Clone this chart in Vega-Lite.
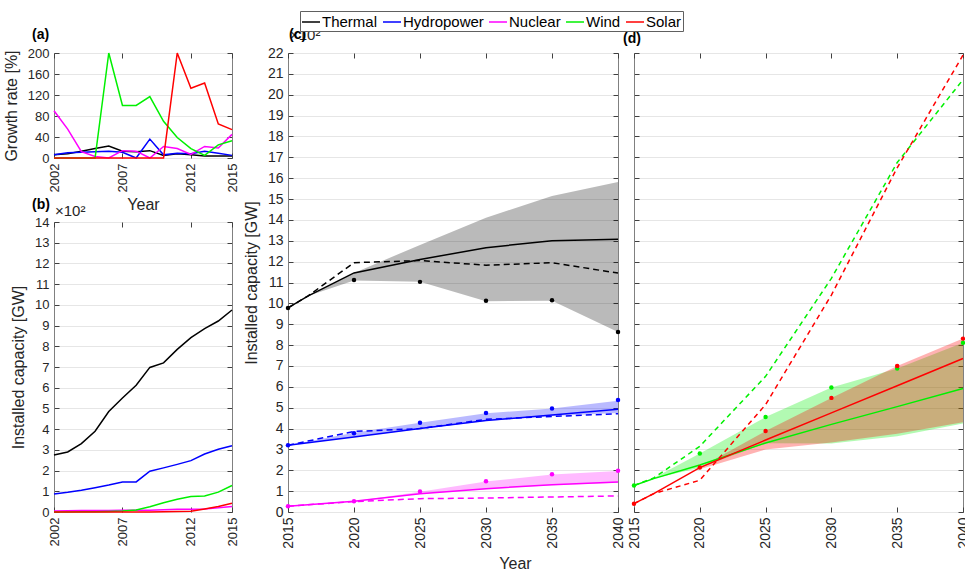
{
  "$schema": "https://vega.github.io/schema/vega-lite/v6.json",
  "padding": {"left": 2, "top": 10, "right": 0, "bottom": 0},
  "background": "white",
  "config": {
    "font": "Liberation Sans",
    "view": {"stroke": "#808080", "strokeWidth": 1},
    "axis": {"domain": false, "ticks": true, "tickSize": -5, "tickColor": "#404040", "tickWidth": 1, "labelPadding": 10, "labelColor": "#262626", "labelFontSize": 14, "titleColor": "#262626", "titleFontSize": 16, "titleFontWeight": "normal", "gridColor": "#e6e6e6", "gridWidth": 1, "labelFlush": false, "labelOverlap": false, "titlePadding": 8},
    "title": {"fontSize": 14, "fontWeight": "bold", "color": "#000000", "anchor": "start", "frame": "group", "baseline": "alphabetic", "offset": 13},
    "line": {"strokeWidth": 1.5}
  },
  "datasets": {
    "hist": [
      {"year":2002,"source":"Thermal","growth":6,"capacity":275},
      {"year":2003,"source":"Thermal","growth":8,"capacity":290},
      {"year":2004,"source":"Thermal","growth":13,"capacity":330},
      {"year":2005,"source":"Thermal","growth":18,"capacity":390},
      {"year":2006,"source":"Thermal","growth":23,"capacity":485},
      {"year":2007,"source":"Thermal","growth":13,"capacity":550},
      {"year":2008,"source":"Thermal","growth":12,"capacity":612},
      {"year":2009,"source":"Thermal","growth":14,"capacity":698},
      {"year":2010,"source":"Thermal","growth":5,"capacity":720},
      {"year":2011,"source":"Thermal","growth":8,"capacity":785},
      {"year":2012,"source":"Thermal","growth":6,"capacity":842},
      {"year":2013,"source":"Thermal","growth":4,"capacity":885},
      {"year":2014,"source":"Thermal","growth":4,"capacity":922},
      {"year":2015,"source":"Thermal","growth":4,"capacity":975},
      {"year":2002,"source":"Hydropower","growth":6,"capacity":87},
      {"year":2003,"source":"Hydropower","growth":10,"capacity":95},
      {"year":2004,"source":"Hydropower","growth":11,"capacity":105},
      {"year":2005,"source":"Hydropower","growth":12,"capacity":117},
      {"year":2006,"source":"Hydropower","growth":13,"capacity":130},
      {"year":2007,"source":"Hydropower","growth":11,"capacity":145},
      {"year":2008,"source":"Hydropower","growth":0,"capacity":145},
      {"year":2009,"source":"Hydropower","growth":36,"capacity":197},
      {"year":2010,"source":"Hydropower","growth":6,"capacity":213},
      {"year":2011,"source":"Hydropower","growth":9,"capacity":230},
      {"year":2012,"source":"Hydropower","growth":8,"capacity":248},
      {"year":2013,"source":"Hydropower","growth":13,"capacity":280},
      {"year":2014,"source":"Hydropower","growth":9,"capacity":303},
      {"year":2015,"source":"Hydropower","growth":5,"capacity":320},
      {"year":2002,"source":"Nuclear","growth":90,"capacity":4.5},
      {"year":2003,"source":"Nuclear","growth":55,"capacity":6},
      {"year":2004,"source":"Nuclear","growth":12,"capacity":7},
      {"year":2005,"source":"Nuclear","growth":3,"capacity":7},
      {"year":2006,"source":"Nuclear","growth":0,"capacity":7},
      {"year":2007,"source":"Nuclear","growth":14,"capacity":8},
      {"year":2008,"source":"Nuclear","growth":13,"capacity":9},
      {"year":2009,"source":"Nuclear","growth":0,"capacity":9},
      {"year":2010,"source":"Nuclear","growth":22,"capacity":11},
      {"year":2011,"source":"Nuclear","growth":18,"capacity":13},
      {"year":2012,"source":"Nuclear","growth":7,"capacity":13},
      {"year":2013,"source":"Nuclear","growth":22,"capacity":15},
      {"year":2014,"source":"Nuclear","growth":19,"capacity":20},
      {"year":2015,"source":"Nuclear","growth":45,"capacity":27},
      {"year":2002,"source":"Wind","growth":0,"capacity":0.4},
      {"year":2003,"source":"Wind","growth":0,"capacity":0.5},
      {"year":2004,"source":"Wind","growth":0,"capacity":0.8},
      {"year":2005,"source":"Wind","growth":0,"capacity":1.1},
      {"year":2006,"source":"Wind","growth":200,"capacity":2.5},
      {"year":2007,"source":"Wind","growth":100,"capacity":5},
      {"year":2008,"source":"Wind","growth":100,"capacity":10},
      {"year":2009,"source":"Wind","growth":117,"capacity":25},
      {"year":2010,"source":"Wind","growth":70,"capacity":45},
      {"year":2011,"source":"Wind","growth":39,"capacity":62},
      {"year":2012,"source":"Wind","growth":18,"capacity":75},
      {"year":2013,"source":"Wind","growth":5,"capacity":77},
      {"year":2014,"source":"Wind","growth":25,"capacity":96},
      {"year":2015,"source":"Wind","growth":33,"capacity":128},
      {"year":2002,"source":"Solar","growth":0,"capacity":0.05},
      {"year":2003,"source":"Solar","growth":0,"capacity":0.05},
      {"year":2004,"source":"Solar","growth":0,"capacity":0.1},
      {"year":2005,"source":"Solar","growth":0,"capacity":0.1},
      {"year":2006,"source":"Solar","growth":0,"capacity":0.1},
      {"year":2007,"source":"Solar","growth":0,"capacity":0.1},
      {"year":2008,"source":"Solar","growth":0,"capacity":0.2},
      {"year":2009,"source":"Solar","growth":0,"capacity":0.3},
      {"year":2010,"source":"Solar","growth":0,"capacity":0.8},
      {"year":2011,"source":"Solar","growth":200,"capacity":2.5},
      {"year":2012,"source":"Solar","growth":133,"capacity":4},
      {"year":2013,"source":"Solar","growth":143,"capacity":15},
      {"year":2014,"source":"Solar","growth":65,"capacity":27},
      {"year":2015,"source":"Solar","growth":54,"capacity":42}
    ],
    "proj": [
      {"year":2015,"source":"Thermal","scenario":"A","value":978},
      {"year":2016.5,"source":"Thermal","scenario":"A","value":1035},
      {"year":2020,"source":"Thermal","scenario":"A","value":1146},
      {"year":2025,"source":"Thermal","scenario":"A","value":1210},
      {"year":2030,"source":"Thermal","scenario":"A","value":1267},
      {"year":2035,"source":"Thermal","scenario":"A","value":1300},
      {"year":2040,"source":"Thermal","scenario":"A","value":1307},
      {"year":2015,"source":"Thermal","scenario":"B","value":978},
      {"year":2016.5,"source":"Thermal","scenario":"B","value":1035},
      {"year":2020,"source":"Thermal","scenario":"B","value":1195},
      {"year":2025,"source":"Thermal","scenario":"B","value":1205},
      {"year":2030,"source":"Thermal","scenario":"B","value":1183},
      {"year":2035,"source":"Thermal","scenario":"B","value":1195},
      {"year":2040,"source":"Thermal","scenario":"B","value":1145},
      {"year":2015,"source":"Hydropower","scenario":"A","value":320},
      {"year":2020,"source":"Hydropower","scenario":"A","value":360},
      {"year":2025,"source":"Hydropower","scenario":"A","value":400},
      {"year":2030,"source":"Hydropower","scenario":"A","value":438},
      {"year":2035,"source":"Hydropower","scenario":"A","value":465},
      {"year":2040,"source":"Hydropower","scenario":"A","value":493},
      {"year":2015,"source":"Hydropower","scenario":"B","value":320},
      {"year":2016.5,"source":"Hydropower","scenario":"B","value":340},
      {"year":2020,"source":"Hydropower","scenario":"B","value":386},
      {"year":2025,"source":"Hydropower","scenario":"B","value":400},
      {"year":2030,"source":"Hydropower","scenario":"B","value":444},
      {"year":2035,"source":"Hydropower","scenario":"B","value":458},
      {"year":2040,"source":"Hydropower","scenario":"B","value":471},
      {"year":2015,"source":"Nuclear","scenario":"A","value":28},
      {"year":2020,"source":"Nuclear","scenario":"A","value":52},
      {"year":2025,"source":"Nuclear","scenario":"A","value":87},
      {"year":2030,"source":"Nuclear","scenario":"A","value":112},
      {"year":2035,"source":"Nuclear","scenario":"A","value":131},
      {"year":2040,"source":"Nuclear","scenario":"A","value":144},
      {"year":2015,"source":"Nuclear","scenario":"B","value":28},
      {"year":2020,"source":"Nuclear","scenario":"B","value":50},
      {"year":2025,"source":"Nuclear","scenario":"B","value":64},
      {"year":2030,"source":"Nuclear","scenario":"B","value":67},
      {"year":2035,"source":"Nuclear","scenario":"B","value":72},
      {"year":2040,"source":"Nuclear","scenario":"B","value":77},
      {"year":2015,"source":"Wind","scenario":"A","value":127},
      {"year":2016.5,"source":"Wind","scenario":"A","value":160},
      {"year":2020,"source":"Wind","scenario":"A","value":225},
      {"year":2025,"source":"Wind","scenario":"A","value":331},
      {"year":2030,"source":"Wind","scenario":"A","value":420},
      {"year":2035,"source":"Wind","scenario":"A","value":505},
      {"year":2040,"source":"Wind","scenario":"A","value":592},
      {"year":2015,"source":"Wind","scenario":"B","value":127},
      {"year":2016.5,"source":"Wind","scenario":"B","value":163},
      {"year":2020,"source":"Wind","scenario":"B","value":315},
      {"year":2025,"source":"Wind","scenario":"B","value":650},
      {"year":2030,"source":"Wind","scenario":"B","value":1120},
      {"year":2035,"source":"Wind","scenario":"B","value":1675},
      {"year":2040,"source":"Wind","scenario":"B","value":2072},
      {"year":2015,"source":"Solar","scenario":"A","value":40},
      {"year":2016.5,"source":"Solar","scenario":"A","value":88},
      {"year":2020,"source":"Solar","scenario":"A","value":213},
      {"year":2025,"source":"Solar","scenario":"A","value":345},
      {"year":2030,"source":"Solar","scenario":"A","value":475},
      {"year":2035,"source":"Solar","scenario":"A","value":605},
      {"year":2040,"source":"Solar","scenario":"A","value":736},
      {"year":2015,"source":"Solar","scenario":"B","value":40},
      {"year":2016.5,"source":"Solar","scenario":"B","value":88},
      {"year":2020,"source":"Solar","scenario":"B","value":152},
      {"year":2025,"source":"Solar","scenario":"B","value":515},
      {"year":2030,"source":"Solar","scenario":"B","value":1040},
      {"year":2035,"source":"Solar","scenario":"B","value":1650},
      {"year":2040,"source":"Solar","scenario":"B","value":2190}
    ],
    "band": [
      {"year":2015,"source":"Thermal","lower":978,"upper":978},
      {"year":2016.5,"source":"Thermal","lower":1035,"upper":1035},
      {"year":2020,"source":"Thermal","lower":1110,"upper":1146},
      {"year":2025,"source":"Thermal","lower":1103,"upper":1280},
      {"year":2030,"source":"Thermal","lower":1010,"upper":1410},
      {"year":2035,"source":"Thermal","lower":1013,"upper":1515},
      {"year":2040,"source":"Thermal","lower":863,"upper":1582},
      {"year":2015,"source":"Hydropower","lower":320,"upper":320},
      {"year":2020,"source":"Hydropower","lower":360,"upper":380},
      {"year":2025,"source":"Hydropower","lower":398,"upper":428},
      {"year":2030,"source":"Hydropower","lower":436,"upper":473},
      {"year":2035,"source":"Hydropower","lower":460,"upper":496},
      {"year":2040,"source":"Hydropower","lower":475,"upper":533},
      {"year":2015,"source":"Nuclear","lower":28,"upper":28},
      {"year":2020,"source":"Nuclear","lower":50,"upper":52},
      {"year":2025,"source":"Nuclear","lower":86,"upper":97},
      {"year":2030,"source":"Nuclear","lower":110,"upper":146},
      {"year":2035,"source":"Nuclear","lower":128,"upper":180},
      {"year":2040,"source":"Nuclear","lower":140,"upper":196},
      {"year":2015,"source":"Wind","lower":127,"upper":127},
      {"year":2016.5,"source":"Wind","lower":160,"upper":163},
      {"year":2020,"source":"Wind","lower":212,"upper":280},
      {"year":2025,"source":"Wind","lower":330,"upper":455},
      {"year":2030,"source":"Wind","lower":328,"upper":597},
      {"year":2035,"source":"Wind","lower":363,"upper":688},
      {"year":2040,"source":"Wind","lower":424,"upper":811},
      {"year":2020,"source":"Solar","lower":205,"upper":213},
      {"year":2025,"source":"Solar","lower":300,"upper":388},
      {"year":2030,"source":"Solar","lower":333,"upper":547},
      {"year":2035,"source":"Solar","lower":375,"upper":700},
      {"year":2040,"source":"Solar","lower":430,"upper":831}
    ],
    "pts": [
      {"year":2015,"source":"Thermal","value":978},
      {"year":2020,"source":"Thermal","value":1112},
      {"year":2025,"source":"Thermal","value":1103},
      {"year":2030,"source":"Thermal","value":1012},
      {"year":2035,"source":"Thermal","value":1015},
      {"year":2040,"source":"Thermal","value":863},
      {"year":2015,"source":"Hydropower","value":320},
      {"year":2020,"source":"Hydropower","value":377},
      {"year":2025,"source":"Hydropower","value":428},
      {"year":2030,"source":"Hydropower","value":474},
      {"year":2035,"source":"Hydropower","value":496},
      {"year":2040,"source":"Hydropower","value":537},
      {"year":2015,"source":"Nuclear","value":28},
      {"year":2020,"source":"Nuclear","value":51},
      {"year":2025,"source":"Nuclear","value":98},
      {"year":2030,"source":"Nuclear","value":147},
      {"year":2035,"source":"Nuclear","value":181},
      {"year":2040,"source":"Nuclear","value":198},
      {"year":2015,"source":"Wind","value":127},
      {"year":2020,"source":"Wind","value":280},
      {"year":2025,"source":"Wind","value":455},
      {"year":2030,"source":"Wind","value":597},
      {"year":2035,"source":"Wind","value":688},
      {"year":2040,"source":"Wind","value":811},
      {"year":2015,"source":"Solar","value":40},
      {"year":2020,"source":"Solar","value":213},
      {"year":2025,"source":"Solar","value":388},
      {"year":2030,"source":"Solar","value":547},
      {"year":2035,"source":"Solar","value":700},
      {"year":2040,"source":"Solar","value":831}
    ]
  },
  "spacing": 234,
  "bounds": "flush",
  "hconcat": [
    {
      "spacing": 64,
      "bounds": "flush",
      "vconcat": [
        {
          "width": 178,
          "height": 105,
          "title": {"text": "(a)", "dx": -22, "offset": 5},
          "data": {"name": "hist"},
          "layer": [
            {
              "mark": {"type": "line", "strokeWidth": 1.5},
              "encoding": {
                "x": {"field": "year", "type": "quantitative", "scale": {"domain": [2002, 2015], "nice": false, "zero": false},
                      "axis": {"orient": "bottom", "values": [2002, 2007, 2012, 2015], "format": "d", "labelAngle": -90, "labelFontSize": 13, "title": "Year", "titlePadding": 5, "grid": false}},
                "y": {"field": "growth", "type": "quantitative", "scale": {"domain": [0, 200], "nice": false},
                      "axis": {"orient": "left", "values": [0, 40, 80, 120, 160, 200], "labelFontSize": 13, "title": "Growth rate [%]", "grid": true}},
                "color": {"field": "source", "type": "nominal",
                          "scale": {"domain": ["Thermal", "Hydropower", "Nuclear", "Wind", "Solar"], "range": ["#000000", "#0000ff", "#ff00ff", "#00f000", "#ff0000"]},
                          "legend": {"title": null, "orient": "none", "legendX": 246, "legendY": -42, "direction": "horizontal", "columns": 5, "symbolType": "stroke", "symbolSize": 324, "symbolStrokeWidth": 1.5, "labelFontSize": 15, "labelOffset": 1, "columnPadding": 2, "padding": 1, "strokeColor": "#606060", "fillColor": "#ffffff", "labelColor": "#000000"}}
              }
            },
            {
              "mark": {"type": "line", "strokeOpacity": 0},
              "encoding": {
                "x": {"field": "year", "type": "quantitative", "axis": {"orient": "top", "values": [2002, 2007, 2012, 2015], "labels": false, "title": null, "grid": false}},
                "y": {"field": "growth", "type": "quantitative", "axis": {"orient": "right", "values": [0, 40, 80, 120, 160, 200], "labels": false, "title": null, "grid": false}}
              }
            }
          ],
          "resolve": {"axis": {"x": "independent", "y": "independent"}}
        },
        {
          "width": 178,
          "height": 290,
          "title": {"text": "(b)", "dx": -22, "offset": 0, "dy": 8},
          "layer": [
            {
              "data": {"name": "hist"},
              "mark": {"type": "line", "strokeWidth": 1.5},
              "encoding": {
                "x": {"field": "year", "type": "quantitative", "scale": {"domain": [2002, 2015], "nice": false, "zero": false},
                      "axis": {"orient": "bottom", "values": [2002, 2007, 2012, 2015], "format": "d", "labelAngle": -90, "labelFontSize": 13, "title": null, "grid": false}},
                "y": {"field": "capacity", "type": "quantitative", "scale": {"domain": [0, 1400], "nice": false},
                      "axis": {"orient": "left", "values": [0, 100, 200, 300, 400, 500, 600, 700, 800, 900, 1000, 1100, 1200, 1300, 1400], "labelExpr": "datum.value / 100", "labelFontSize": 13, "title": "Installed capacity [GW]", "grid": true}},
                "color": {"field": "source", "type": "nominal",
                          "scale": {"domain": ["Thermal", "Hydropower", "Nuclear", "Wind", "Solar"], "range": ["#000000", "#0000ff", "#ff00ff", "#00f000", "#ff0000"]},
                          "legend": {"title": null}}
              }
            },
            {
              "data": {"name": "hist"},
              "mark": {"type": "line", "strokeOpacity": 0},
              "encoding": {
                "x": {"field": "year", "type": "quantitative", "axis": {"orient": "top", "values": [2002, 2007, 2012, 2015], "labels": false, "title": null, "grid": false}},
                "y": {"field": "capacity", "type": "quantitative", "axis": {"orient": "right", "values": [0, 100, 200, 300, 400, 500, 600, 700, 800, 900, 1000, 1100, 1200, 1300, 1400], "labels": false, "title": null, "grid": false}}
              }
            },
            {
              "data": {"values": [{"label": "×10²"}]},
              "mark": {"type": "text", "align": "left", "baseline": "alphabetic", "dx": 1, "dy": -6, "fontSize": 15, "color": "#262626"},
              "encoding": {
                "x": {"datum": 2002, "type": "quantitative", "axis": null},
                "y": {"datum": 1400, "type": "quantitative", "axis": null},
                "text": {"field": "label"}
              }
            }
          ],
          "resolve": {"axis": {"x": "independent", "y": "independent"}}
        }
      ]
    },
    {
      "spacing": 16,
      "bounds": "flush",
      "hconcat": [
        {
          "width": 330,
          "height": 459,
          "title": {"text": "(c)", "dx": 1, "offset": 0, "dy": 14},
          "layer": [
            {
              "data": {"name": "band"},
              "transform": [{"filter": {"field": "source", "oneOf": ["Thermal", "Hydropower", "Nuclear"]}}],
              "mark": {"type": "area", "fillOpacity": 0.27},
              "encoding": {
                "x": {"field": "year", "type": "quantitative", "scale": {"domain": [2015, 2040], "nice": false, "zero": false},
                      "axis": {"orient": "bottom", "values": [2015, 2020, 2025, 2030, 2035, 2040], "format": "d", "labelAngle": -90, "title": "Year", "titleX": 227, "titleY": 56, "titleBaseline": "alphabetic", "titleAlign": "center", "grid": false}},
                "y": {"field": "lower", "type": "quantitative", "scale": {"domain": [0, 2200], "nice": false},
                      "axis": {"orient": "left", "values": [0, 100, 200, 300, 400, 500, 600, 700, 800, 900, 1000, 1100, 1200, 1300, 1400, 1500, 1600, 1700, 1800, 1900, 2000, 2100, 2200], "labelExpr": "datum.value / 100", "title": "Installed capacity [GW]", "grid": true}},
                "y2": {"field": "upper"},
                "fill": {"field": "source", "type": "nominal",
                         "scale": {"domain": ["Thermal", "Hydropower", "Nuclear", "Wind", "Solar"], "range": ["#000000", "#0000ff", "#ff00ff", "#00f000", "#ff0000"]},
                         "legend": null}
              }
            },
            {
              "data": {"name": "proj"},
              "transform": [{"filter": {"field": "source", "oneOf": ["Thermal", "Hydropower", "Nuclear"]}}, {"filter": "datum.scenario === 'A'"}],
              "mark": {"type": "line", "strokeWidth": 1.5},
              "encoding": {
                "x": {"field": "year", "type": "quantitative", "axis": {"orient": "top", "values": [2015, 2020, 2025, 2030, 2035, 2040], "labels": false, "title": null, "grid": false}},
                "y": {"field": "value", "type": "quantitative", "axis": {"orient": "right", "values": [0, 100, 200, 300, 400, 500, 600, 700, 800, 900, 1000, 1100, 1200, 1300, 1400, 1500, 1600, 1700, 1800, 1900, 2000, 2100, 2200], "labels": false, "title": null, "grid": false}},
                "color": {"field": "source", "type": "nominal",
                          "scale": {"domain": ["Thermal", "Hydropower", "Nuclear", "Wind", "Solar"], "range": ["#000000", "#0000ff", "#ff00ff", "#00f000", "#ff0000"]},
                          "legend": {"title": null}}
              }
            },
            {
              "data": {"name": "proj"},
              "transform": [{"filter": {"field": "source", "oneOf": ["Thermal", "Hydropower", "Nuclear"]}}, {"filter": "datum.scenario === 'B'"}],
              "mark": {"type": "line", "strokeWidth": 1.5, "strokeDash": [6, 4]},
              "encoding": {
                "x": {"field": "year", "type": "quantitative", "axis": null},
                "y": {"field": "value", "type": "quantitative", "axis": null},
                "color": {"field": "source", "type": "nominal",
                          "scale": {"domain": ["Thermal", "Hydropower", "Nuclear", "Wind", "Solar"], "range": ["#000000", "#0000ff", "#ff00ff", "#00f000", "#ff0000"]},
                          "legend": {"title": null}}
              }
            },
            {
              "data": {"name": "pts"},
              "transform": [{"filter": {"field": "source", "oneOf": ["Thermal", "Hydropower", "Nuclear"]}}],
              "mark": {"type": "circle", "size": 20, "opacity": 1},
              "encoding": {
                "x": {"field": "year", "type": "quantitative", "axis": null},
                "y": {"field": "value", "type": "quantitative", "axis": null},
                "fill": {"field": "source", "type": "nominal",
                         "scale": {"domain": ["Thermal", "Hydropower", "Nuclear", "Wind", "Solar"], "range": ["#000000", "#0000ff", "#ff00ff", "#00f000", "#ff0000"]},
                         "legend": null}
              }
            },
            {
              "data": {"values": [{"label": "×10²"}]},
              "mark": {"type": "text", "align": "left", "baseline": "alphabetic", "dx": 2, "dy": -13, "fontSize": 15, "color": "#262626"},
              "encoding": {
                "x": {"datum": 2015, "type": "quantitative", "axis": null},
                "y": {"datum": 2200, "type": "quantitative", "axis": null},
                "text": {"field": "label"}
              }
            }
          ],
          "resolve": {"axis": {"x": "independent", "y": "independent"}}
        },
        {
          "width": 329,
          "height": 459,
          "title": {"text": "(d)", "dx": -11, "offset": 6},
          "layer": [
            {
              "data": {"name": "band"},
              "transform": [{"filter": {"field": "source", "oneOf": ["Wind", "Solar"]}}],
              "mark": {"type": "area", "fillOpacity": 0.3},
              "encoding": {
                "x": {"field": "year", "type": "quantitative", "scale": {"domain": [2015, 2040], "nice": false, "zero": false},
                      "axis": {"orient": "bottom", "values": [2015, 2020, 2025, 2030, 2035, 2040], "format": "d", "labelAngle": -90, "title": null, "grid": false}},
                "y": {"field": "lower", "type": "quantitative", "scale": {"domain": [0, 2200], "nice": false},
                      "axis": {"orient": "left", "values": [0, 100, 200, 300, 400, 500, 600, 700, 800, 900, 1000, 1100, 1200, 1300, 1400, 1500, 1600, 1700, 1800, 1900, 2000, 2100, 2200], "labels": false, "title": null, "grid": true}},
                "y2": {"field": "upper"},
                "fill": {"field": "source", "type": "nominal",
                         "scale": {"domain": ["Thermal", "Hydropower", "Nuclear", "Wind", "Solar"], "range": ["#000000", "#0000ff", "#ff00ff", "#00f000", "#ff0000"]},
                         "legend": null}
              }
            },
            {
              "data": {"name": "proj"},
              "transform": [{"filter": {"field": "source", "oneOf": ["Wind", "Solar"]}}, {"filter": "datum.scenario === 'A'"}],
              "mark": {"type": "line", "strokeWidth": 1.5},
              "encoding": {
                "x": {"field": "year", "type": "quantitative", "axis": {"orient": "top", "values": [2015, 2020, 2025, 2030, 2035, 2040], "labels": false, "title": null, "grid": false}},
                "y": {"field": "value", "type": "quantitative", "axis": {"orient": "right", "values": [0, 100, 200, 300, 400, 500, 600, 700, 800, 900, 1000, 1100, 1200, 1300, 1400, 1500, 1600, 1700, 1800, 1900, 2000, 2100, 2200], "labels": false, "title": null, "grid": false}},
                "color": {"field": "source", "type": "nominal",
                          "scale": {"domain": ["Thermal", "Hydropower", "Nuclear", "Wind", "Solar"], "range": ["#000000", "#0000ff", "#ff00ff", "#00f000", "#ff0000"]},
                          "legend": {"title": null}}
              }
            },
            {
              "data": {"name": "proj"},
              "transform": [{"filter": {"field": "source", "oneOf": ["Wind", "Solar"]}}, {"filter": "datum.scenario === 'B'"}],
              "mark": {"type": "line", "strokeWidth": 1.5, "strokeDash": [5, 4]},
              "encoding": {
                "x": {"field": "year", "type": "quantitative", "axis": null},
                "y": {"field": "value", "type": "quantitative", "axis": null},
                "color": {"field": "source", "type": "nominal",
                          "scale": {"domain": ["Thermal", "Hydropower", "Nuclear", "Wind", "Solar"], "range": ["#000000", "#0000ff", "#ff00ff", "#00f000", "#ff0000"]},
                          "legend": {"title": null}}
              }
            },
            {
              "data": {"name": "pts"},
              "transform": [{"filter": {"field": "source", "oneOf": ["Wind", "Solar"]}}],
              "mark": {"type": "circle", "size": 20, "opacity": 1},
              "encoding": {
                "x": {"field": "year", "type": "quantitative", "axis": null},
                "y": {"field": "value", "type": "quantitative", "axis": null},
                "fill": {"field": "source", "type": "nominal",
                         "scale": {"domain": ["Thermal", "Hydropower", "Nuclear", "Wind", "Solar"], "range": ["#000000", "#0000ff", "#ff00ff", "#00f000", "#ff0000"]},
                         "legend": null}
              }
            }
          ],
          "resolve": {"axis": {"x": "independent", "y": "independent"}}
        }
      ]
    }
  ]
}
